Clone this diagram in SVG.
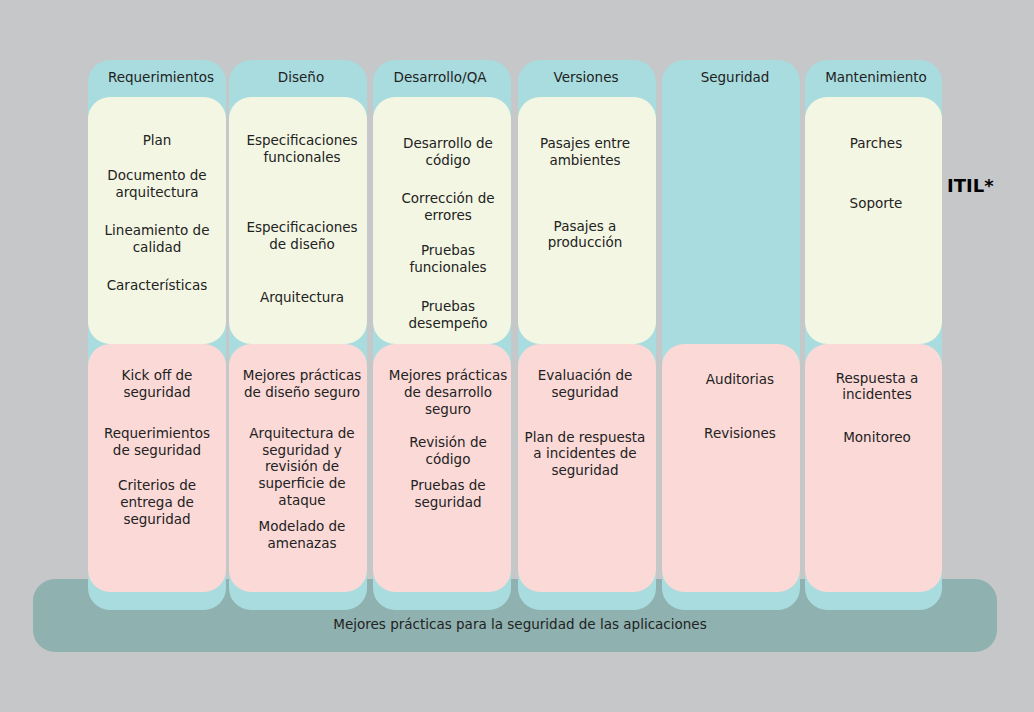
<svg xmlns="http://www.w3.org/2000/svg" width="1034" height="712" viewBox="0 0 1034 712">
<style>
.col{fill:#a8dcdf}
.cream{fill:#f3f6e2}
.pink{fill:#fad9d7}
.bar{fill:#8fb1af}
text{font-family:"DejaVu Sans","Liberation Sans",sans-serif;font-size:13.5px;fill:#222;text-anchor:middle}
.itil{font-family:"DejaVu Sans","Liberation Sans",sans-serif;font-weight:bold;font-size:18px;fill:#000;text-anchor:start}
</style>
<rect width="1034" height="712" fill="#c6c7c9"/>
<g id="base">
<rect class="bar" x="33" y="579" width="964" height="73" rx="22"/>
<text x="520" y="629">Mejores prácticas para la seguridad de las aplicaciones</text>
</g>
<g id="col-requerimientos">
<rect class="col" x="88" y="60" width="138" height="550" rx="22"/>
<rect class="cream" x="88" y="97" width="138" height="247" rx="22"/>
<rect class="pink" x="88" y="344" width="138" height="248" rx="22"/>
<text x="161" y="82">Requerimientos</text>
<text x="157" y="145">Plan</text>
<text x="157" y="180">Documento de</text>
<text x="157" y="197">arquitectura</text>
<text x="157" y="235">Lineamiento de</text>
<text x="157" y="252">calidad</text>
<text x="157" y="290">Características</text>
<text x="157" y="380">Kick off de</text>
<text x="157" y="397">seguridad</text>
<text x="157" y="438">Requerimientos</text>
<text x="157" y="455">de seguridad</text>
<text x="157" y="490">Criterios de</text>
<text x="157" y="507">entrega de</text>
<text x="157" y="524">seguridad</text>
</g>
<g id="col-diseno">
<rect class="col" x="229" y="60" width="138" height="550" rx="22"/>
<rect class="cream" x="229" y="97" width="138" height="247" rx="22"/>
<rect class="pink" x="229" y="344" width="138" height="248" rx="22"/>
<text x="301" y="82">Diseño</text>
<text x="302" y="145">Especificaciones</text>
<text x="302" y="162">funcionales</text>
<text x="302" y="232">Especificaciones</text>
<text x="302" y="249">de diseño</text>
<text x="302" y="302">Arquitectura</text>
<text x="302" y="380">Mejores prácticas</text>
<text x="302" y="397">de diseño seguro</text>
<text x="302" y="438">Arquitectura de</text>
<text x="302" y="455">seguridad y</text>
<text x="302" y="471">revisión de</text>
<text x="302" y="488">superficie de</text>
<text x="302" y="505">ataque</text>
<text x="302" y="531">Modelado de</text>
<text x="302" y="548">amenazas</text>
</g>
<g id="col-desarrollo">
<rect class="col" x="373" y="60" width="138" height="550" rx="22"/>
<rect class="cream" x="373" y="97" width="138" height="247" rx="22"/>
<rect class="pink" x="373" y="344" width="138" height="248" rx="22"/>
<text x="440" y="82">Desarrollo/QA</text>
<text x="448" y="148">Desarrollo de</text>
<text x="448" y="165">código</text>
<text x="448" y="203">Corrección de</text>
<text x="448" y="220">errores</text>
<text x="448" y="255">Pruebas</text>
<text x="448" y="272">funcionales</text>
<text x="448" y="311">Pruebas</text>
<text x="448" y="328">desempeño</text>
<text x="448" y="380">Mejores prácticas</text>
<text x="448" y="397">de desarrollo</text>
<text x="448" y="414">seguro</text>
<text x="448" y="447">Revisión de</text>
<text x="448" y="464">código</text>
<text x="448" y="490">Pruebas de</text>
<text x="448" y="507">seguridad</text>
</g>
<g id="col-versiones">
<rect class="col" x="518" y="60" width="138" height="550" rx="22"/>
<rect class="cream" x="518" y="97" width="138" height="247" rx="22"/>
<rect class="pink" x="518" y="344" width="138" height="248" rx="22"/>
<text x="586" y="82">Versiones</text>
<text x="585" y="148">Pasajes entre</text>
<text x="585" y="165">ambientes</text>
<text x="585" y="231">Pasajes a</text>
<text x="585" y="247">producción</text>
<text x="585" y="380">Evaluación de</text>
<text x="585" y="397">seguridad</text>
<text x="585" y="442">Plan de respuesta</text>
<text x="585" y="458">a incidentes de</text>
<text x="585" y="475">seguridad</text>
</g>
<g id="col-seguridad">
<rect class="col" x="662" y="60" width="138" height="550" rx="22"/>
<rect class="pink" x="662" y="344" width="138" height="248" rx="22"/>
<text x="735" y="82">Seguridad</text>
<text x="740" y="384">Auditorias</text>
<text x="740" y="438">Revisiones</text>
</g>
<g id="col-mantenimiento">
<rect class="col" x="805" y="60" width="137" height="550" rx="22"/>
<rect class="cream" x="805" y="97" width="137" height="247" rx="22"/>
<rect class="pink" x="805" y="344" width="137" height="248" rx="22"/>
<text x="876" y="82">Mantenimiento</text>
<text x="876" y="148">Parches</text>
<text x="876" y="208">Soporte</text>
<text x="877" y="383">Respuesta a</text>
<text x="877" y="399">incidentes</text>
<text x="877" y="442">Monitoreo</text>
</g>
<g id="itil">
<text class="itil" x="947" y="192">ITIL*</text>
</g>
</svg>
